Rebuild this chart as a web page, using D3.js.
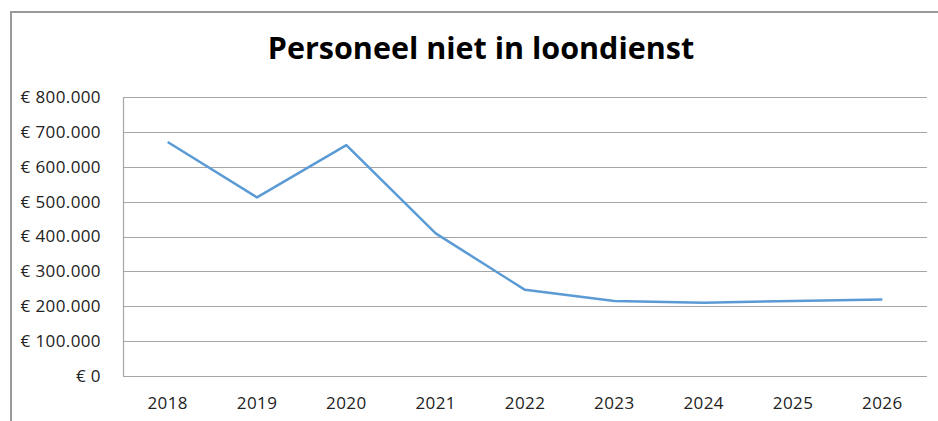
<!DOCTYPE html>
<html>
<head>
<meta charset="utf-8">
<script src="https://cdn.jsdelivr.net/npm/d3@7"></script>
<style>
  body { margin: 0; background: #fff; }
  svg text { font-family: "Open Sans", Lato, sans-serif; fill: #222; }
</style>
</head>
<body>
<svg width="938" height="421" id="content"></svg>
<script>
// data
var years = ["2018", "2019", "2020", "2021", "2022", "2023", "2024", "2025", "2026"];
var kosten = [671000, 512000, 662000, 409000, 247000, 215000, 210000, 215000, 219000];
var yTicks = [0, 100000, 200000, 300000, 400000, 500000, 600000, 700000, 800000];

var svg = d3.select("svg");
var pLeft = 123, pRight = 927, pTop = 97, pBottom = 376;

// chart frame (cut off at right and bottom like the screenshot)
svg.append("path")
  .attr("d", "M11,421 V12 H938")
  .attr("fill", "none")
  .attr("stroke", "#9a9a9a")
  .attr("stroke-width", 2);

svg.append("text")
  .attr("x", 481).attr("y", 59)
  .attr("text-anchor", "middle")
  .style("font-size", "30.5px")
  .style("font-weight", "bold")
  .style("fill", "#000")
  .text("Personeel niet in loondienst");

var x = d3.scaleBand().domain(years).range([pLeft, pRight]);
var y = d3.scaleLinear().domain([0, 800000]).range([pBottom, pTop]);

var fmt = function(v) {
  return "€ " + d3.format(",")(v).replace(/,/g, ".");
};

// gridlines
svg.append("g").selectAll("line")
  .data(yTicks)
  .enter().append("line")
  .attr("x1", pLeft).attr("x2", pRight)
  .attr("y1", function(d) { return Math.round(y(d)) + 0.5; })
  .attr("y2", function(d) { return Math.round(y(d)) + 0.5; })
  .attr("stroke", "#a6a6a6")
  .attr("stroke-width", 1.2);

// left axis line
svg.append("line")
  .attr("x1", pLeft + 0.5).attr("x2", pLeft + 0.5)
  .attr("y1", pTop).attr("y2", pBottom)
  .attr("stroke", "#a6a6a6").attr("stroke-width", 1.2);

var yAxis = svg.append("g")
  .attr("transform", "translate(" + (pLeft - 22) + ",0)")
  .call(d3.axisLeft(y).tickValues(yTicks).tickFormat(fmt).tickSize(0).tickPadding(0));
yAxis.select(".domain").remove();
yAxis.selectAll("text").style("font-size", "17px").style("letter-spacing", "0.4px");

var xAxis = svg.append("g")
  .attr("transform", "translate(0," + (pBottom + 21) + ")")
  .call(d3.axisBottom(x).tickSize(0).tickPadding(0));
xAxis.select(".domain").remove();
xAxis.selectAll("text").style("font-size", "17px").style("letter-spacing", "0.4px");

var line = d3.line()
  .x(function(d, i) { return x(years[i]) + x.bandwidth() / 2; })
  .y(function(d) { return y(d); });

svg.append("path")
  .datum(kosten)
  .attr("fill", "none")
  .attr("stroke", "#5b9bd5")
  .attr("stroke-width", 2.5)
  .attr("stroke-linejoin", "round")
  .attr("d", line);
</script>
</body>
</html>
